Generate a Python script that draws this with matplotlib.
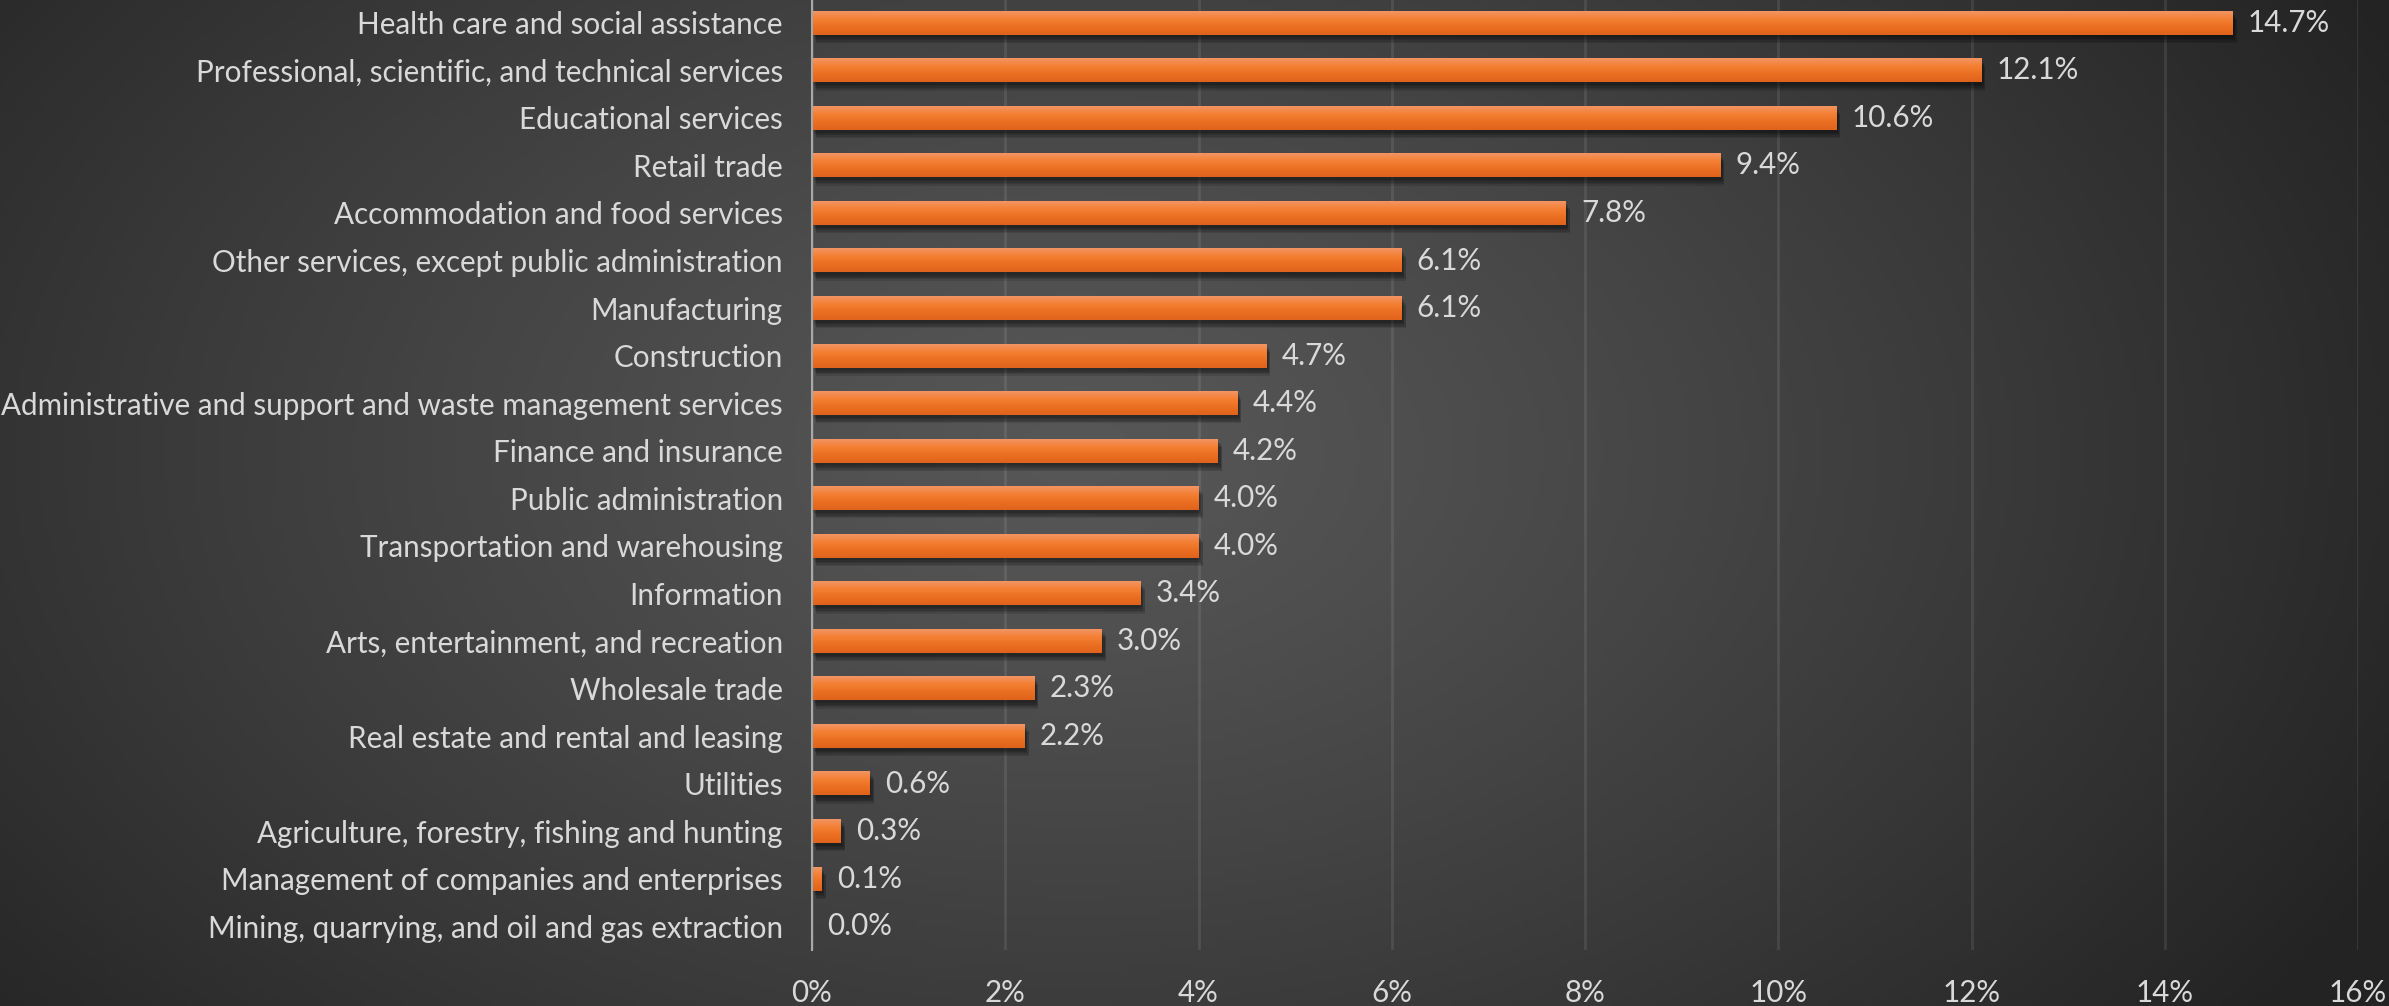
import numpy as np
import matplotlib.pyplot as plt
from matplotlib import patheffects
from matplotlib.colors import LinearSegmentedColormap

plt.rcParams['font.family'] = ['Lato', 'DejaVu Sans']

# share of workers by industry (%)
industries = [
    'Health care and social assistance',
    'Professional, scientific, and technical services',
    'Educational services',
    'Retail trade',
    'Accommodation and food services',
    'Other services, except public administration',
    'Manufacturing',
    'Construction',
    'Administrative and support and waste management services',
    'Finance and insurance',
    'Public administration',
    'Transportation and warehousing',
    'Information',
    'Arts, entertainment, and recreation',
    'Wholesale trade',
    'Real estate and rental and leasing',
    'Utilities',
    'Agriculture, forestry, fishing and hunting',
    'Management of companies and enterprises',
    'Mining, quarrying, and oil and gas extraction',
]
shares = [14.7, 12.1, 10.6, 9.4, 7.8, 6.1, 6.1, 4.7, 4.4, 4.2,
          4.0, 4.0, 3.4, 3.0, 2.3, 2.2, 0.6, 0.3, 0.1, 0.0]
xticks = [0, 2, 4, 6, 8, 10, 12, 14, 16]

txt = '#d9d9d9'
fs = 21.3
W, H = 2389, 1006
fig = plt.figure(figsize=(W / 100, H / 100), dpi=100)

# dark background with a soft lighter spot in the middle
bg = fig.add_axes([0, 0, 1, 1], zorder=-5)
gx, gy = np.meshgrid(np.linspace(0, 1, 480), np.linspace(0, 1, 200))
r = np.sqrt(((gx - 0.45) / 0.62) ** 2 + ((gy - 0.45) / 0.95) ** 2)
r = np.clip(r, 0, 1) ** 1.2
bgcmap = LinearSegmentedColormap.from_list('bg', ['#575757', '#232323'])
bg.imshow(r, cmap=bgcmap, vmin=0, vmax=1, aspect='auto', extent=(0, 1, 0, 1))
bg.axis('off')

ax = fig.add_axes([812 / W, 56 / H, (2358 - 812) / W, 951 / H])
ax.set_facecolor('none')

# soft drop shadow: a few faint offset copies stacked
shadow = [patheffects.SimplePatchShadow(offset=(dx, dy), alpha=0.12, shadow_rgbFace='black')
          for dx, dy in [(1, -2), (2, -3), (2, -4), (3, -5), (3, -6)]]
pos = np.arange(len(industries))
bars = ax.barh(pos, shares, height=0.5, color='#ef7a2c', zorder=3,
               path_effects=shadow + [patheffects.Normal()])

# vertical orange shading on each bar
barcmap = LinearSegmentedColormap.from_list('bar', ['#f29563', '#f47f33', '#ea6f22', '#e0631b'])
grad = np.linspace(0, 1, 64).reshape(-1, 1)
for b in bars:
    x0, y0, w, h = b.get_x(), b.get_y(), b.get_width(), b.get_height()
    if w <= 0:
        continue
    ax.imshow(grad, cmap=barcmap, aspect='auto', zorder=4,
              extent=(x0, x0 + w, y0 + h, y0), interpolation='bilinear')

for p, v in zip(pos, shares):
    ax.annotate(f'{v:.1f}%', (v, p), xytext=(11, 0), textcoords='offset points',
                va='center', ha='left', color=txt, fontsize=fs)

ax.set_xlim(0, 16)
ax.set_ylim(len(industries) - 0.5, -0.5)
ax.set_xticks(xticks)
ax.set_xticklabels([f'{t}%' for t in xticks])
ax.set_yticks(pos)
ax.set_yticklabels(industries)
ax.tick_params(axis='both', length=0, colors=txt, labelsize=fs)
ax.tick_params(axis='y', pad=21)
ax.tick_params(axis='x', pad=21)
ax.grid(axis='x', color='#ffffff', alpha=0.09, linewidth=2, zorder=0)
ax.set_axisbelow(True)
for s in ['top', 'right', 'bottom']:
    ax.spines[s].set_visible(False)
ax.spines['left'].set_color('#a8a8a8')
ax.spines['left'].set_linewidth(1.5)
ax.spines['left'].set_zorder(5)

fig.savefig('out.png', dpi=100)
